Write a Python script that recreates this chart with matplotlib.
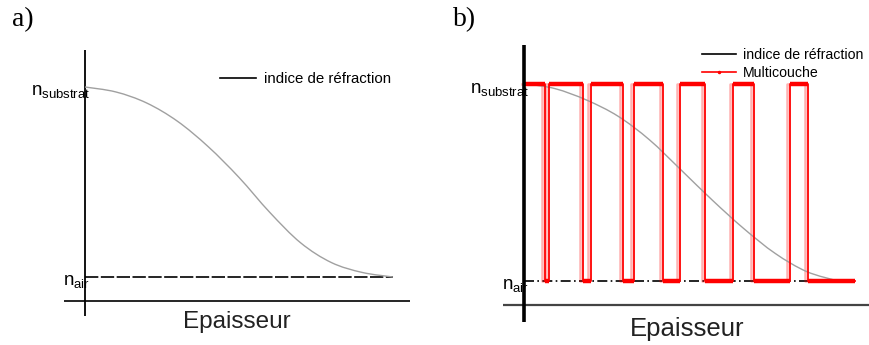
import matplotlib
matplotlib.use("Agg")
import matplotlib.pyplot as plt
from matplotlib.lines import Line2D
from matplotlib.path import Path
from matplotlib.patches import PathPatch
from matplotlib.transforms import ScaledTranslation

plt.rcParams["font.family"] = ["Liberation Sans", "DejaVu Sans"]
plt.rcParams["mathtext.fontset"] = "custom"
plt.rcParams["mathtext.rm"] = "Liberation Sans"
plt.rcParams["mathtext.it"] = "Liberation Sans"

# Refractive index levels
n_air = 1.00
n_substrat = 1.50

# Graded index profile (panel a)
thick_a = [0.00, 0.10, 0.20, 0.30, 0.40, 0.50, 0.60, 0.70, 0.80, 0.90, 1.00]
index_a = [1.500, 1.487, 1.458, 1.410, 1.343, 1.262, 1.170, 1.090, 1.038, 1.012, 1.000]

# Graded index profile (panel b)
thick_b = [0.01, 0.10, 0.20, 0.30, 0.40, 0.50, 0.60, 0.70, 0.80, 0.90, 1.00]
index_b = [1.500, 1.488, 1.459, 1.418, 1.358, 1.282, 1.205, 1.133, 1.070, 1.024, 1.000]

# Multilayer stack: layer boundaries and index of each layer
layer_edges = [0.003, 0.067, 0.080, 0.189, 0.212, 0.315, 0.350, 0.443, 0.497,
               0.575, 0.666, 0.734, 0.847, 0.903, 1.054]
layer_index = [n_substrat, n_air] * 7

W, H = 870, 345
fig = plt.figure(figsize=(W / 100, H / 100), dpi=100)


def px_axes(x0, y0, x1, y1):
    ax = fig.add_axes([x0 / W, 1 - y1 / H, (x1 - x0) / W, (y1 - y0) / H])
    ax.set_axis_off()
    return ax


def smooth_profile(ax, xs, ys, **kw):
    """Draw a smooth curve through the points (Catmull-Rom as cubic Beziers)."""
    pts = list(zip(xs, ys))
    verts = [pts[0]]
    codes = [Path.MOVETO]
    for i in range(len(pts) - 1):
        p0 = pts[i - 1] if i > 0 else pts[i]
        p1, p2 = pts[i], pts[i + 1]
        p3 = pts[i + 2] if i + 2 < len(pts) else pts[i + 1]
        c1 = (p1[0] + (p2[0] - p0[0]) / 6, p1[1] + (p2[1] - p0[1]) / 6)
        c2 = (p2[0] - (p3[0] - p1[0]) / 6, p2[1] - (p3[1] - p1[1]) / 6)
        verts += [c1, c2, p2]
        codes += [Path.CURVE4] * 3
    ax.add_patch(PathPatch(Path(verts, codes), fill=False, **kw))


def level_labels(ax, dx, dy):
    off = ScaledTranslation(dx / 100, -dy / 100, fig.dpi_scale_trans)
    ax.text(0, n_substrat, r"$\mathregular{n_{substrat}}$", ha="right", va="center",
            fontsize=13.5, transform=ax.transData + off, zorder=6)
    ax.text(0, n_air, r"$\mathregular{n_{air}}$", ha="right", va="center",
            fontsize=13.5, transform=ax.transData + off, zorder=6)


LEG = dict(frameon=False, handlelength=2.4, handletextpad=0.5,
           borderpad=0, borderaxespad=0, bbox_transform=fig.transFigure)

# ---------------- panel a ----------------
axa = px_axes(64, 50, 410, 316)
axa.set_xlim(-21 / 308, 1 + 17 / 308)
axa.set_ylim(1 - 39 / 380, 1 + 227 / 380)
axa.axvline(0, color="black", lw=1.3)
axa.axhline(1 - 24 / 380, color="black", lw=1.2)
axa.hlines(n_air, 0, thick_a[-1], color="black", lw=1.2, linestyles=(0, (8, 1.5)))
smooth_profile(axa, thick_a, index_a, edgecolor="#a0a0a0", lw=1.0, zorder=3)
level_labels(axa, 5, 4)
axa.legend(handles=[Line2D([], [], color="black", lw=1.2)], labels=["indice de réfraction"],
           loc="center left", bbox_to_anchor=(220 / W, 1 - 79 / H), fontsize=10.8, **LEG)

# ---------------- panel b ----------------
axb = px_axes(503, 45, 870, 322)
axb.set_xlim(-21 / 314, (870 - 524) / 314)
axb.set_ylim(1 - 41 / 394, 1 + 236 / 394)
axb.axvline(0, color="black", lw=2.6, zorder=5)
axb.axhline(1 - 24 / 394, color="#444444", lw=1.6)
axb.hlines(n_air, 0, layer_edges[-1], color="black", lw=1.2, linestyles=(0, (6, 2, 1, 2)))
smooth_profile(axb, thick_b, index_b, edgecolor="#a0a0a0", lw=1.0, zorder=3)

step_x = layer_edges
step_y = layer_index + [layer_index[-1]]
ghost = ScaledTranslation(-3 / 100, 0, fig.dpi_scale_trans)
axb.step(step_x, step_y, where="post", color="#ff0000", lw=1.8, alpha=0.3, zorder=2,
         transform=axb.transData + ghost)
axb.step(step_x, step_y, where="post", color="#ff0000", lw=1.3, zorder=4)
axb.hlines(layer_index, layer_edges[:-1], layer_edges[1:], color="#ff0000", lw=3.2, zorder=4)
level_labels(axb, 5, 5)
axb.legend(handles=[Line2D([], [], color="black", lw=1.2),
                    Line2D([], [], color="#ff0000", lw=1.2, marker=".", markersize=3)],
           labels=["indice de réfraction", "Multicouche"],
           loc="upper left", bbox_to_anchor=(702 / W, 1 - 48 / H), labelspacing=0.3,
           numpoints=1, fontsize=10.2, **LEG)

# Panel tags and axis titles
fig.text(12 / W, 1 - 20 / H, "a)", family="Liberation Serif", fontsize=20, va="center", ha="left")
fig.text(453 / W, 1 - 20 / H, "b)", family="Liberation Serif", fontsize=20, va="center", ha="left")
fig.text(237 / W, 1 - 322 / H, "Epaisseur", fontsize=17.5, ha="center", va="center", color="#222222")
fig.text(687 / W, 1 - 329 / H, "Epaisseur", fontsize=18.5, ha="center", va="center", color="#222222")

fig.savefig("out.png", dpi=100)
